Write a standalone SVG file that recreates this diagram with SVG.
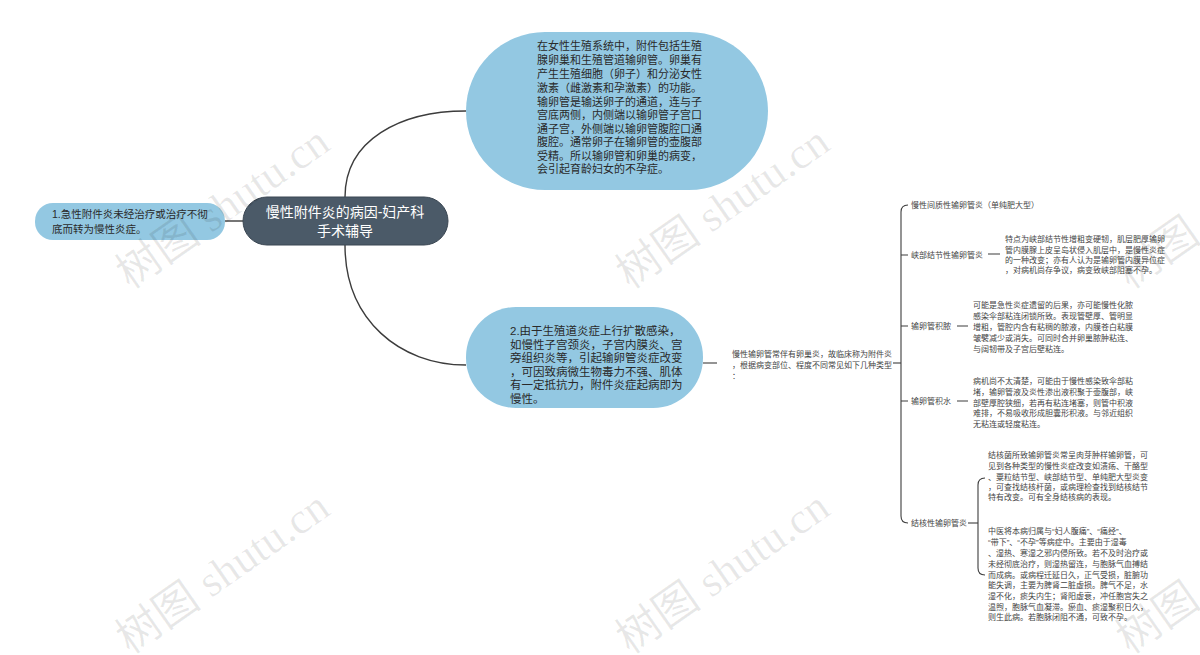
<svg xmlns="http://www.w3.org/2000/svg" width="1200" height="655" viewBox="0 0 1200 655">
<style>
text{font-family:"Liberation Sans","Noto Sans CJK SC",sans-serif;}
.bub{fill:#93c8e2;}
.bt{font-size:11px;fill:#2a2a2a;}
.bt2{font-size:11.5px;fill:#2a2a2a;}
.sm{font-size:8px;fill:#444;}
.con{fill:none;stroke:#3c3c3c;stroke-width:1.4;}
.thin{fill:none;stroke:#3c3c3c;stroke-width:1.1;}
.wm{font-family:"Liberation Serif","Noto Sans CJK SC",serif;font-size:44px;fill:#000;fill-opacity:0.09;}
</style>
<rect width="1200" height="655" fill="#ffffff"/>
<g id="connectors">
<path class="con" d="M345,197 C345,140 400,111 466,111"/>
<path class="con" d="M345,245 C345,320 400,365 466,365"/>
<path class="con" d="M225,221 L243,221"/>
<path class="thin" d="M703,363 L717,363"/>
<path class="thin" d="M893,363 L901,363"/>
<path class="thin" d="M908,205 Q901,205 901,212 L901,516 Q901,523 908,523"/>
<path class="thin" d="M901,255 L908,255 M901,326 L908,326 M901,401 L908,401"/>
<path class="thin" d="M988,254 L1000,254 M957,326 L968,326 M957,401 L968,401"/>
<path class="thin" d="M968,523 L978,523"/>
<path class="thin" d="M985,478 Q978,478 978,485 L978,568 Q978,575 985,575"/>
</g>
<g id="center">
<rect x="243" y="197" width="205" height="48" rx="24" fill="#4b5a68" stroke="#3a4652" stroke-width="1"/>
<text x="345" y="217" text-anchor="middle" font-size="14" fill="#ffffff">慢性附件炎的病因-妇产科</text>
<text x="345" y="236" text-anchor="middle" font-size="14" fill="#ffffff">手术辅导</text>
</g>
<g id="left">
<rect x="35" y="203" width="190" height="37" rx="18" class="bub"/>
<text x="52" y="218" font-size="10.5" fill="#2a2a2a">1.急性附件炎未经治疗或治疗不彻</text>
<text x="52" y="233" font-size="10.5" fill="#2a2a2a">底而转为慢性炎症。</text>
</g>
<g id="top">
<rect x="466" y="32" width="302" height="158" rx="79" class="bub"/>
<text class="bt" x="537" y="50">在女性生殖系统中，附件包括生殖</text>
<text class="bt" x="537" y="64">腺卵巢和生殖管道输卵管。卵巢有</text>
<text class="bt" x="537" y="78">产生生殖细胞（卵子）和分泌女性</text>
<text class="bt" x="537" y="92">激素（雌激素和孕激素）的功能。</text>
<text class="bt" x="537" y="106">输卵管是输送卵子的通道，连与子</text>
<text class="bt" x="537" y="119">宫底两侧，内侧端以输卵管子宫口</text>
<text class="bt" x="537" y="133">通子宫，外侧端以输卵管腹腔口通</text>
<text class="bt" x="537" y="146">腹腔。通常卵子在输卵管的壶腹部</text>
<text class="bt" x="537" y="160">受精。所以输卵管和卵巢的病变，</text>
<text class="bt" x="537" y="173">会引起育龄妇女的不孕症。</text>
</g>
<g id="bottom">
<rect x="466" y="307" width="237" height="101" rx="50" class="bub"/>
<text class="bt2" x="510" y="335">2.由于生殖道炎症上行扩散感染，</text>
<text class="bt2" x="510" y="348.6">如慢性子宫颈炎，子宫内膜炎、宫</text>
<text class="bt2" x="510" y="362.2">旁组织炎等，引起输卵管炎症改变</text>
<text class="bt2" x="510" y="375.8">，可因致病微生物毒力不强、肌体</text>
<text class="bt2" x="510" y="389.4">有一定抵抗力，附件炎症起病即为</text>
<text class="bt2" x="510" y="403">慢性。</text>
</g>
<g id="mid">
<text class="sm" x="732" y="357">慢性输卵管常伴有卵巢炎，故临床称为附件炎</text>
<text class="sm" x="732" y="368">，根据病变部位、程度不同常见如下几种类型</text>
<text class="sm" x="732" y="379">：</text>
</g>
<g id="c1">
<text class="sm" x="911" y="208">慢性间质性输卵管炎（单纯肥大型）</text>
</g>
<g id="c2">
<text class="sm" x="911" y="258">峡部结节性输卵管炎</text>
<text class="sm" x="1005" y="242">特点为峡部结节性增粗变硬韧，肌层肥厚输卵</text>
<text class="sm" x="1005" y="253">管内膜腺上皮呈岛状侵入肌层中，是慢性炎症</text>
<text class="sm" x="1005" y="263">的一种改变；亦有人认为是输卵管内膜异位症</text>
<text class="sm" x="1005" y="273">，对病机尚存争议，病变致峡部阻塞不孕。</text>
</g>
<g id="c3">
<text class="sm" x="911" y="329">输卵管积脓</text>
<text class="sm" x="973" y="308">可能是急性炎症遗留的后果，亦可能慢性化脓</text>
<text class="sm" x="973" y="319">感染伞部粘连闭锁所致。表现管壁厚、管明显</text>
<text class="sm" x="973" y="330">增粗，管腔内含有粘稠的脓液，内膜苍白粘膜</text>
<text class="sm" x="973" y="341">皱襞减少或消失。可同时合并卵巢脓肿粘连、</text>
<text class="sm" x="973" y="352">与阔韧带及子宫后壁粘连。</text>
</g>
<g id="c4">
<text class="sm" x="911" y="404">输卵管积水</text>
<text class="sm" x="973" y="384">病机尚不太清楚，可能由于慢性感染致伞部粘</text>
<text class="sm" x="973" y="395">堵，输卵管液及炎性渗出液积聚于壶腹部，峡</text>
<text class="sm" x="973" y="406">部壁厚腔狭细，若再有粘连堵塞，则管中积液</text>
<text class="sm" x="973" y="416">难排，不易吸收形成胆囊形积液。与邻近组织</text>
<text class="sm" x="973" y="427">无粘连或轻度粘连。</text>
</g>
<g id="c5">
<text class="sm" x="911" y="526">结核性输卵管炎</text>
<text class="sm" x="988" y="458">结核菌所致输卵管炎常呈肉芽肿样输卵管，可</text>
<text class="sm" x="988" y="469">见到各种类型的慢性炎症改变如溃疡、干酪型</text>
<text class="sm" x="988" y="480">、粟粒结节型、峡部结节型、单纯肥大型炎变</text>
<text class="sm" x="988" y="490">，可查找结核杆菌，或病理检查找到结核结节</text>
<text class="sm" x="988" y="500">特有改变。可有全身结核病的表现。</text>
<text class="sm" x="988" y="534">中医将本病归属与“妇人腹痛”、“痛经”、</text>
<text class="sm" x="988" y="545">“带下”、“不孕”等病症中。主要由于湿毒</text>
<text class="sm" x="988" y="556">、湿热、寒湿之邪内侵所致。若不及时治疗或</text>
<text class="sm" x="988" y="567">未经彻底治疗，则湿热留连，与胞脉气血搏结</text>
<text class="sm" x="988" y="578">而成病。或病程迁延日久，正气受损，脏腑功</text>
<text class="sm" x="988" y="588">能失调，主要为脾肾二脏虚损。脾气不足，水</text>
<text class="sm" x="988" y="599">湿不化，痰失内生；肾阳虚衰，冲任胞宫失之</text>
<text class="sm" x="988" y="610">温煦，胞脉气血凝滞。瘀血、痰湿聚积日久，</text>
<text class="sm" x="988" y="620">则生此病。若胞脉闭阻不通，可致不孕。</text>
</g>
<g id="watermark">
<text class="wm" transform="translate(130,290) rotate(-35)">树图 shutu.cn</text>
<text class="wm" transform="translate(630,290) rotate(-35)">树图 shutu.cn</text>
<text class="wm" transform="translate(1130,290) rotate(-35)">树图 shutu.cn</text>
<text class="wm" transform="translate(130,655) rotate(-35)">树图 shutu.cn</text>
<text class="wm" transform="translate(630,655) rotate(-35)">树图 shutu.cn</text>
<text class="wm" transform="translate(1130,655) rotate(-35)">树图 shutu.cn</text>
</g>
</svg>
